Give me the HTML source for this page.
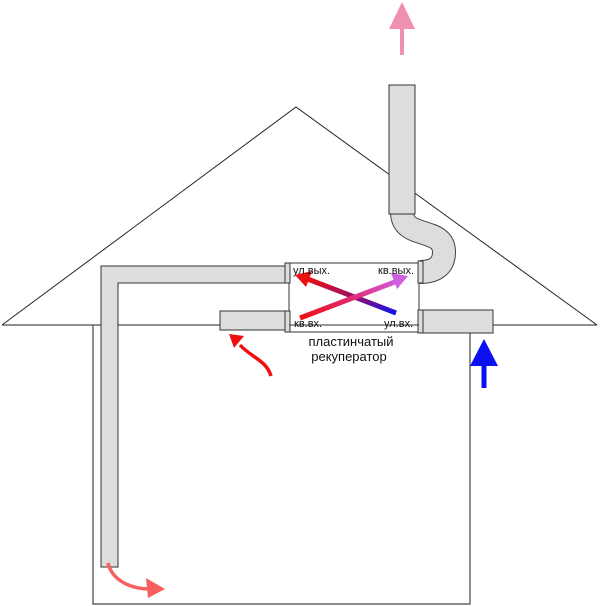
<!DOCTYPE html>
<html><head><meta charset="utf-8"><style>
html,body{margin:0;padding:0;background:#fff;}
svg{display:block;font-family:"Liberation Sans",sans-serif;}
</style></head><body>
<svg width="600" height="606" viewBox="0 0 600 606" xmlns="http://www.w3.org/2000/svg">
<defs>
<linearGradient id="g1" x1="1" y1="1" x2="0" y2="0"><stop offset="0" stop-color="#1010ee"/><stop offset="0.5" stop-color="#a01060"/><stop offset="1" stop-color="#ee1010"/></linearGradient>
<linearGradient id="g2" x1="0" y1="1" x2="1" y2="0"><stop offset="0" stop-color="#ee1010"/><stop offset="0.5" stop-color="#e02870"/><stop offset="1" stop-color="#d060e0"/></linearGradient>
</defs>
<polyline points="2,325 296,107 597,325" fill="none" stroke="#222" stroke-width="1"/>
<line x1="2" y1="325" x2="597" y2="325" stroke="#222" stroke-width="1"/>
<polyline points="93,325 93,604 470,604 470,333" fill="none" stroke="#444" stroke-width="1.2"/>
<path d="M402,212 C402,240 444,226 444,252 C444,268 432,272 420,272" fill="none" stroke="#444" stroke-width="24"/>
<path d="M402,212 C402,240 444,226 444,252 C444,268 432,272 420,272" fill="none" stroke="#ddd" stroke-width="22"/>
<rect x="389" y="85" width="26" height="129" fill="#ddd" stroke="#333"/>
<path d="M101,567 V266 H286 V283 H118 V567 Z" fill="#ddd" stroke="#333"/>
<rect x="220" y="311" width="66" height="19" fill="#ddd" stroke="#333"/>
<rect x="423" y="310" width="70" height="23" fill="#ddd" stroke="#333"/>
<rect x="289" y="263" width="130" height="69" fill="#fff" stroke="#333"/>
<rect x="285" y="263" width="5" height="20" fill="#ddd" stroke="#333"/>
<rect x="285" y="311" width="5" height="21" fill="#ddd" stroke="#333"/>
<rect x="418" y="261" width="5" height="22" fill="#ddd" stroke="#333"/>
<rect x="418" y="310" width="5" height="23" fill="#ddd" stroke="#333"/>
<line x1="289" y1="325" x2="419" y2="325" stroke="#333"/>
<line x1="396" y1="313" x2="305" y2="278" stroke="url(#g1)" stroke-width="5"/>
<polygon points="295,275 312,271 306,287" fill="#ee1010"/>
<line x1="300" y1="318" x2="400" y2="280" stroke="url(#g2)" stroke-width="5"/>
<polygon points="408,276 391,273 397,289" fill="#d060e0"/>
<g font-size="11" fill="#111">
<text x="293" y="274">ул.вых.</text>
<text x="378" y="274">кв.вых.</text>
<text x="294" y="327">кв.вх.</text>
<text x="384" y="327">ул.вх.</text>
</g>
<g font-size="13" fill="#111" text-anchor="middle">
<text x="351" y="346">пластинчатый</text>
<text x="349" y="361">рекуператор</text>
</g>
<line x1="402" y1="55" x2="402" y2="25" stroke="#f090b0" stroke-width="4"/>
<polygon points="389,29 402,2 415,29" fill="#f090b0"/>
<line x1="484" y1="388" x2="484" y2="362" stroke="#0a10f0" stroke-width="5"/>
<polygon points="470,366 484,339 498,366" fill="#0a10f0"/>
<path d="M271,376 C266,360 252,358 240,345" fill="none" stroke="#ee1010" stroke-width="3.5"/>
<polygon points="229,334 244,336 234,348" fill="#ee1010"/>
<path d="M108,563 C112,580 130,589 150,589" fill="none" stroke="#f86060" stroke-width="3.5"/>
<polygon points="165,589 146,578 148,598" fill="#f86060"/>
</svg>
</body></html>
